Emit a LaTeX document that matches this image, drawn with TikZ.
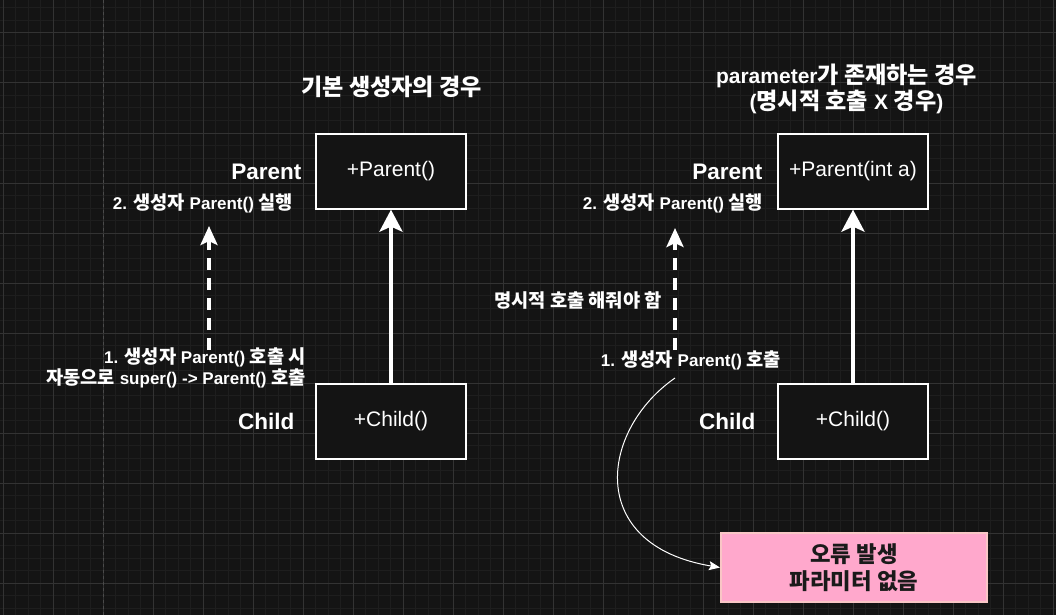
\documentclass[tikz,border=0pt]{standalone}
\usepackage{fontspec}
\setmainfont{Liberation Sans}
\newfontfamily\krfont[Scale=1.1]{Noto Sans CJK KR}
\usepackage{xcolor}
\usetikzlibrary{arrows.meta,calc,positioning}
\definecolor{CanvasBg}{HTML}{141414}
\definecolor{GridMinor}{HTML}{1E1E1E}
\definecolor{GridMajor}{HTML}{333333}
\definecolor{PageLine}{HTML}{4A4A4A}
\definecolor{TextPrimary}{HTML}{FFFFFF}
\definecolor{ErrorFill}{HTML}{FFA8CC}
\definecolor{ErrorEdge}{HTML}{F9C6C6}
\definecolor{ErrorText}{HTML}{1A1A1A}
\newcommand{\kr}[1]{{\krfont #1}}
\tikzset{
    classbox/.style={draw=TextPrimary, line width=1.3pt, fill=CanvasBg,
        minimum width=150pt, minimum height=75pt, text=TextPrimary,
        font=\fontsize{21}{24}\selectfont},
    namelbl/.style={text=TextPrimary, inner sep=0pt,
        font=\fontsize{22.5}{26}\selectfont\bfseries},
    notelbl/.style={text=TextPrimary, inner sep=0pt,
        font=\fontsize{17}{21}\selectfont\bfseries},
    titlelbl/.style={text=TextPrimary, inner sep=0pt, align=center,
        font=\fontsize{21}{26}\selectfont\bfseries},
    inherit/.style={draw=TextPrimary, line width=4pt,
        -{Stealth[length=22pt,width=23pt,inset=5pt]}},
    callflow/.style={draw=TextPrimary, line width=4pt, dash pattern=on 12pt off 8pt,
        -{Stealth[length=19pt,width=17pt,inset=4pt]}},
    errflow/.style={draw=TextPrimary, line width=1pt,
        -{Stealth[length=11pt,width=9pt,inset=2pt]}},
    errbox/.style={draw=ErrorEdge, line width=2pt, fill=ErrorFill,
        minimum width=266pt, minimum height=69pt, text=ErrorText, align=center,
        font=\fontsize{20.3}{27}\selectfont\bfseries}
}

\begin{document}
\begin{tikzpicture}[x=1pt,y=-1pt]
    \fill[CanvasBg] (0,0) rectangle (1056,615);
    \useasboundingbox (0,0) rectangle (1056,615);
    \foreach \gx in {3,15.5,...,1056} \draw[GridMinor,line width=1pt] (\gx,0) -- (\gx,615);
    \foreach \gy in {8,20.5,...,615} \draw[GridMinor,line width=1pt] (0,\gy) -- (1056,\gy);
    \foreach \gx in {3,53,...,1056} \draw[GridMajor,line width=1pt] (\gx,0) -- (\gx,615);
    \foreach \gy in {33,83,...,615} \draw[GridMajor,line width=1pt] (0,\gy) -- (1056,\gy);
    \draw[PageLine,line width=1pt,dash pattern=on 3pt off 3pt] (103,0) -- (103,615);

    \node[titlelbl] (titleL) at (391.5,87) {\kr{기본 생성자의 경우}};
    \node[titlelbl] (titleR) at (846.5,89) {parameter\kr{가 존재하는 경우}\\(\kr{명시적 호출} X \kr{경우})};

    \node[classbox] (pL) at (391,171.5) {+Parent()};
    \node[classbox] (cL) at (391,421.5) {+Child()};
    \node[classbox] (pR) at (853,171.5) {+Parent(int a)};
    \node[classbox] (cR) at (853,421.5) {+Child()};

    \node[namelbl] (pLname) at ([xshift=-49pt]pL.west) {Parent};
    \node[namelbl] (cLname) at ([xshift=-49pt]cL.west) {Child};
    \node[namelbl] (pRname) at ([xshift=-50pt]pR.west) {Parent};
    \node[namelbl] (cRname) at ([xshift=-50pt]cR.west) {Child};

    \draw[inherit] (cL) -- (pL);
    \draw[inherit] (cR) -- (pR);

    \coordinate (dLfrom) at (209,350);
    \coordinate (dLto) at (209,226);
    \coordinate (dRfrom) at (675,350);
    \coordinate (dRto) at (675,228);
    \draw[callflow] (dLfrom) -- (dLto);
    \draw[callflow] (dRfrom) -- (dRto);

    \node[notelbl] (runL) at (203,203) {2. \kr{생성자} Parent() \kr{실행}};
    \node[notelbl, align=right, anchor=east] (callL) at (306,367.5)
        {1. \kr{생성자} Parent() \kr{호출 시}\\\kr{자동으로} super() -> Parent() \kr{호출}};
    \node[notelbl] (runR) at (673,203) {2. \kr{생성자} Parent() \kr{실행}};
    \node[notelbl] (needR) at (578,300) {\kr{명시적 호출 해줘야 함}};
    \node[notelbl] (callR) at (691,360) {1. \kr{생성자} Parent() \kr{호출}};

    \node[errbox] (err) at (854,567.5) {\kr{오류 발생}\\\kr{파라미터 없음}};
    \coordinate (eFrom) at (675,378);
    \draw[errflow] (eFrom) .. controls (600,430) and (585,545) .. (err.west);
\end{tikzpicture}
\end{document}
